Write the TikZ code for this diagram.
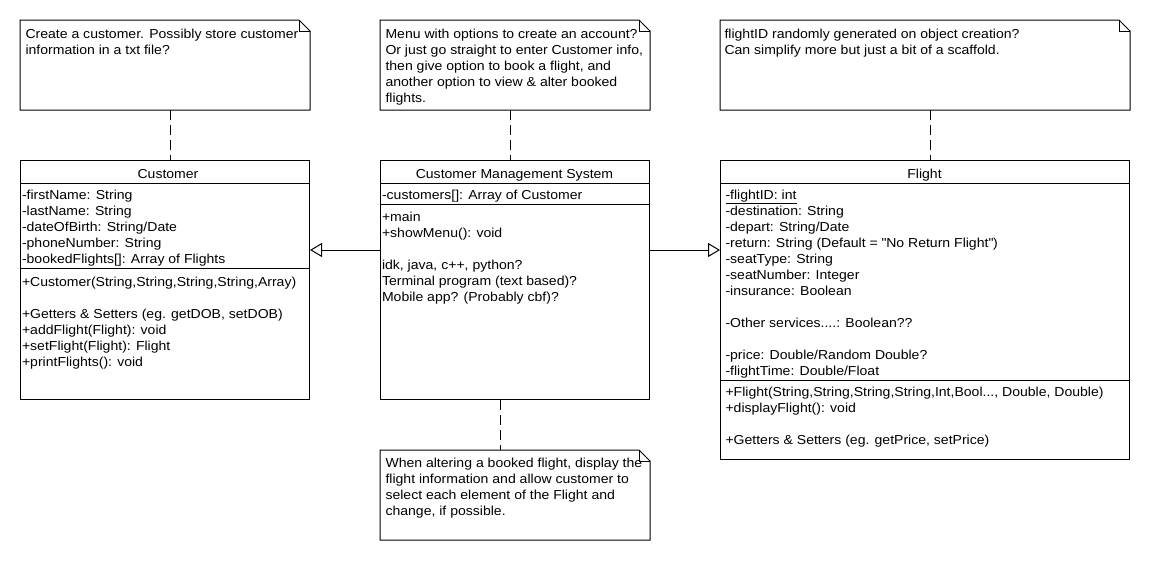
\documentclass[tikz,border=0pt]{standalone}
\usepackage{fontspec}
\setmainfont{Liberation Sans}[FakeStretch=1.08]
\usetikzlibrary{arrows.meta,calc}
\newcommand{\fsz}{\fontsize{13}{16}\selectfont}
\begin{document}
\begin{tikzpicture}[x=1pt,y=-1pt,line width=1pt,
  box/.style={draw,anchor=north west,inner sep=0pt,minimum width=#1},
  notebox/.style={anchor=north west,inner sep=0pt,minimum width=#1},
  txt/.style={anchor=north west,inner sep=0pt,align=left,font=\fsz},
  ttl/.style={anchor=base,inner sep=0pt,font=\fsz},
  dash line/.style={dash pattern=on 10pt off 5pt},
  inh/.style={-{Triangle[open,length=12pt,width=14pt,fill=white]}}
]
\useasboundingbox[fill=white] (0,0) rectangle (1150,560);

% ---------- class boxes ----------
\node[box=289pt,minimum height=239pt] (cust) at (20,160) {};
\node[box=269pt,minimum height=239pt] (cms) at (380,160) {};
\node[box=409pt,minimum height=299pt] (flight) at (720,160) {};

\coordinate (s1) at (0,183);
\coordinate (cs2) at (0,268);
\coordinate (ms2) at (0,204);
\coordinate (fs2) at (0,380);
\draw (cust.west |- s1) -- (cust.east |- s1);
\draw (cust.west |- cs2) -- (cust.east |- cs2);
\draw (cms.west |- s1) -- (cms.east |- s1);
\draw (cms.west |- ms2) -- (cms.east |- ms2);
\draw (flight.west |- s1) -- (flight.east |- s1);
\draw (flight.west |- fs2) -- (flight.east |- fs2);

% titles
\node[ttl] (custT) at (168,178) {Customer};
\node[ttl] (cmsT) at (514.5,178) {Customer Management System};
\node[ttl] (flightT) at (924.5,178) {Flight};

% Customer compartments
\node[txt] (custA) at (21.5,187.8) {\strut-firstName: String\\
-lastName: String\\
-dateOfBirth: String/Date\\
-phoneNumber: String\\
-bookedFlights[]: Array of Flights};
\node[txt] (custM) at (21.5,274.3) {\strut+Customer(String,String,String,String,Array)\\[16pt]
+Getters \& Setters (eg. getDOB, setDOB)\\
+addFlight(Flight): void\\
+setFlight(Flight): Flight\\
+printFlights(): void};

% CMS compartments
\node[txt] (cmsA) at (381.5,187.8) {\strut-customers[]: Array of Customer};
\node[txt] (cmsM) at (381.5,209.3) {\strut+main\\
+showMenu(): void\\[16pt]
idk, java, c++, python?\\
Terminal program (text based)?\\
Mobile app? (Probably cbf)?};

% Flight compartments
\node[txt] (flightA) at (725,187.8) {\strut\underline{-flightID: int}\\
-destination: String\\
-depart: String/Date\\
-return: String (Default = \textquotedbl No Return Flight\textquotedbl)\\
-seatType: String\\
-seatNumber: Integer\\
-insurance: Boolean\\[16pt]
-Other services....: Boolean??\\[16pt]
-price: Double/Random Double?\\
-flightTime: Double/Float};
\node[txt] (flightM) at (725,384.8) {\strut+Flight(String,String,String,String,Int,Bool..., Double, Double)\\
+displayFlight(): void\\[16pt]
+Getters \& Setters (eg. getPrice, setPrice)};

% ---------- notes ----------
\node[notebox=289pt,minimum height=89pt] (n1) at (20,20) {};
\node[notebox=269pt,minimum height=89pt] (n2) at (380,20) {};
\node[notebox=409pt,minimum height=89pt] (n3) at (720,20) {};
\node[notebox=269pt,minimum height=89pt] (n4) at (380,450) {};
\foreach \n in {n1,n2,n3,n4}{
  \draw (\n.north west) -- ([xshift=-11pt]\n.north east) -- ([yshift=-11pt]\n.north east)
        -- (\n.south east) -- (\n.south west) -- cycle;
  \draw ([xshift=-11pt]\n.north east) -- ([xshift=-11pt,yshift=-11pt]\n.north east)
        -- ([yshift=-11pt]\n.north east);
}
\node[txt] (n1t) at (25,26.3) {\strut Create a customer. Possibly store customer\\
information in a txt file?};
\node[txt] (n2t) at (385,26.3) {\strut Menu with options to create an account?\\
Or just go straight to enter Customer info,\\
then give option to book a flight, and\\
another option to view \& alter booked\\
flights.};
\node[txt] (n3t) at (724,26.3) {\strut flightID randomly generated on object creation?\\
Can simplify more but just a bit of a scaffold.};
\node[txt] (n4t) at (385,455.3) {\strut When altering a booked flight, display the\\
flight information and allow customer to\\
select each element of the Flight and\\
change, if possible.};

% ---------- note anchors ----------
\draw[dash line] ($(n1.south west)+(150,0)$) -- ($(cust.north west)+(150,0)$);
\draw[dash line] ($(n2.south west)+(130,0)$) -- ($(cms.north west)+(130,0)$);
\draw[dash line] ($(n3.south west)+(210,0)$) -- ($(flight.north west)+(210,0)$);
\draw[dash line] ($(cms.south west)+(120,0)$) -- ($(n4.north west)+(120,0)$);

% ---------- generalizations ----------
\coordinate (ay) at (0,250);
\draw[inh] (cms.west |- ay) -- (cust.east |- ay);
\draw[inh] (cms.east |- ay) -- (flight.west |- ay);
\end{tikzpicture}
\end{document}
